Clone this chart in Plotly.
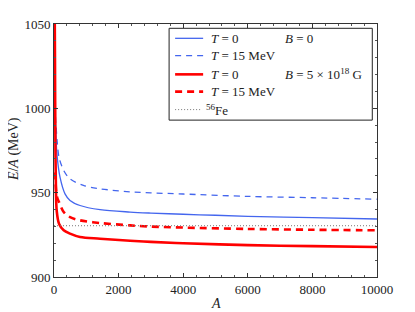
import plotly.graph_objects as go

# Data
A_b0t0 = [30, 60, 90, 186, 341, 496, 806, 1426, 2356, 3000, 4000, 5000, 6000, 8000, 10000]
E_b0t0 = [997, 985, 973, 959.2, 949.3, 945.4, 942.4, 939.9, 938.5, 937.9, 937.2, 936.6, 936.0, 935.2, 934.4]

A_b0t15 = [45, 62, 100, 155, 300, 496, 910, 1426, 2356, 3000, 4000, 6000, 8000, 10000]
E_b0t15 = [995, 990, 980, 971, 963.2, 958.2, 954.3, 952.3, 950.5, 949.9, 949.2, 947.8, 947.0, 946.1]

A_bt0 = [18, 30, 45, 62, 83, 155, 300, 496, 806, 1426, 2356, 3000, 4000, 6000, 8000, 10000]
E_bt0 = [1070, 1030, 975, 950, 939.5, 931.6, 927.7, 925.7, 923.7, 922.7, 921.5, 920.8, 920.0, 918.9, 918.3, 917.8]

A_bt15 = [40, 62, 100, 155, 300, 496, 806, 1426, 2356, 3000, 4000, 6000, 8000, 10000]
E_bt15 = [962, 952, 947, 944.4, 938.5, 935.5, 933.6, 932.0, 930.6, 929.9, 929.3, 928.5, 928.0, 927.7]

A_fe = [0, 10000]
E_fe = [930.4, 930.4]

x_ticks = [0, 2000, 4000, 6000, 8000, 10000]
x_labels = ["0", "2000", "4000", "6000", "8000", "10000"]
y_ticks = [900, 950, 1000, 1050]
y_labels = ["900", "950", "1000", "1050"]

legend_T = ["<i>T</i> = 0", "<i>T</i> = 15 MeV", "<i>T</i> = 0", "<i>T</i> = 15 MeV", "<sup>56</sup>Fe"]
legend_B = ["<i>B</i> = 0", "", "<i>B</i> = 5 × 10<sup>18</sup> G", "", ""]

BLUE = "#4466ee"
RED = "#ff0000"
GRAY = "#777777"
INK = "#222222"
FONT = "Liberation Serif"

styles = [
    dict(color=BLUE, width=1.3, dash="solid"),
    dict(color=BLUE, width=1.3, dash="6px,5px"),
    dict(color=RED, width=2.6, dash="solid"),
    dict(color=RED, width=2.6, dash="7px,5px"),
    dict(color=GRAY, width=1, dash="1px,2px"),
]
series = [(A_b0t0, E_b0t0), (A_b0t15, E_b0t15), (A_bt0, E_bt0), (A_bt15, E_bt15), (A_fe, E_fe)]

fig = go.Figure()
for (xs, ys), st in zip(series, styles):
    fig.add_trace(go.Scatter(x=xs, y=ys, mode="lines", line=dict(**st, shape="spline", smoothing=0.9),
                             showlegend=False, hoverinfo="skip"))

# Plot area in screen pixels (page has an 8px body margin)
PL, PR, PT, PB = 54.0, 376.7, 24.0, 276.7
W, H = 415, 312
OFF = 8


def px(X):
    return (X - PL) / (PR - PL)


def py(Y):
    return (PB - Y) / (PB - PT)


shapes = []
annotations = []
# legend box
shapes.append(dict(type="rect", xref="paper", yref="paper", x0=px(169), x1=px(372), y0=py(120), y1=py(28.3),
                   line=dict(color=INK, width=1), fillcolor="white", layer="above"))
rows_y = [38.3, 55.5, 74.3, 91.5, 109.5]
for i, (ty, st) in enumerate(zip(rows_y, styles)):
    x1 = 203 if i < 4 else 202
    shapes.append(dict(type="line", xref="paper", yref="paper", x0=px(175), x1=px(x1), y0=py(ty), y1=py(ty),
                       line=st, layer="above"))
    tx = 209 if i < 4 else 204
    annotations.append(dict(xref="paper", yref="paper", x=px(tx), y=py(ty), xanchor="left", yanchor="middle",
                            text=legend_T[i], showarrow=False, font=dict(family=FONT, size=13, color=INK)))
    if legend_B[i]:
        annotations.append(dict(xref="paper", yref="paper", x=px(283), y=py(ty), xanchor="left", yanchor="middle",
                                text=legend_B[i], showarrow=False, font=dict(family=FONT, size=13, color=INK)))

# axis titles
annotations.append(dict(xref="paper", yref="paper", x=px(215.7), y=py(303), xanchor="center", yanchor="middle",
                        text="<i>A</i>", showarrow=False, font=dict(family=FONT, size=14, color=INK)))
annotations.append(dict(xref="paper", yref="paper", x=px(14), y=py(149), xanchor="center", yanchor="middle",
                        text="<i>E</i>/<i>A</i> (MeV)", textangle=-90, showarrow=False,
                        font=dict(family=FONT, size=14, color=INK)))

axis_common = dict(
    showline=True, linecolor="#333333", linewidth=1, mirror="ticks",
    ticks="inside", ticklen=4, tickcolor="#333333", showgrid=False, zeroline=False,
    automargin=False,
    tickfont=dict(family=FONT, size=13, color=INK),
)
fig.update_xaxes(range=[0, 10000], tickvals=x_ticks, ticktext=x_labels,
                 minor=dict(ticks="inside", dtick=400, ticklen=2, tickcolor="#555555"),
                 **axis_common)
fig.update_yaxes(range=[900, 1050], tickvals=y_ticks, ticktext=y_labels,
                 minor=dict(ticks="inside", dtick=10, ticklen=2, tickcolor="#555555"),
                 **axis_common)

fig.update_layout(
    width=W, height=H,
    margin=dict(l=PL - OFF, r=W + OFF - PR, t=PT - OFF, b=H + OFF - PB),
    paper_bgcolor="white", plot_bgcolor="white",
    font=dict(family=FONT, size=13, color=INK),
    shapes=shapes, annotations=annotations,
    showlegend=False,
)

fig.write_html("out.html")
